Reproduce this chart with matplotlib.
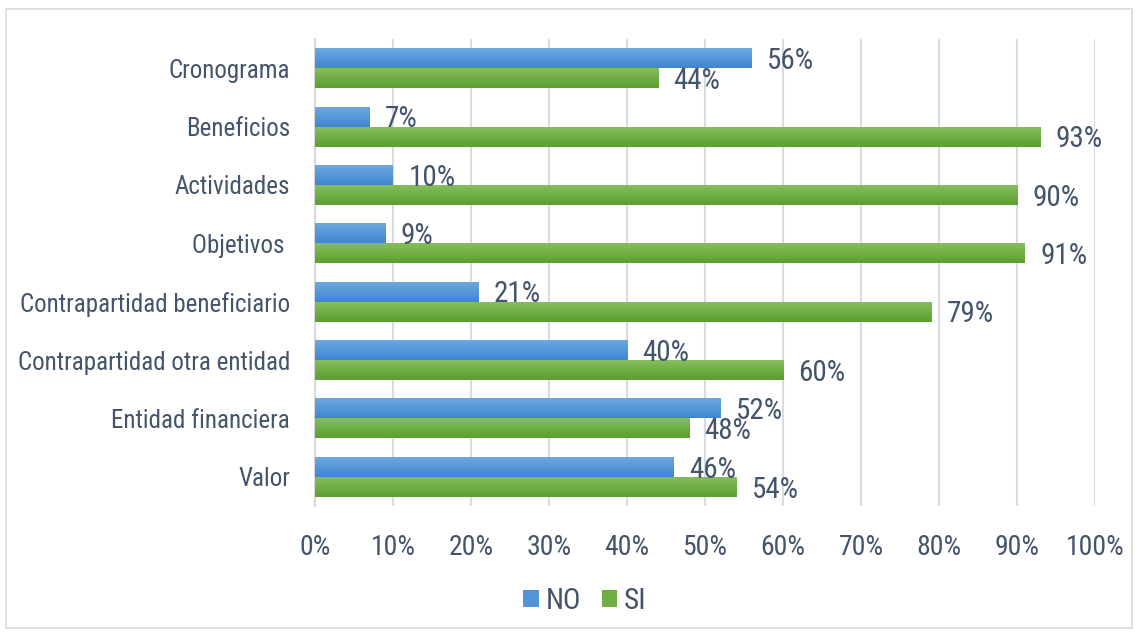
import matplotlib
matplotlib.use("Agg")
import matplotlib.pyplot as plt
import numpy as np
from matplotlib.colors import LinearSegmentedColormap
from matplotlib.patches import Rectangle
from matplotlib import font_manager

categories = ["Cronograma", "Beneficios", "Actividades", "Objetivos ",
              "Contrapartidad beneficiario", "Contrapartidad otra entidad",
              "Entidad financiera", "Valor"]
no_vals = [56, 7, 10, 9, 21, 40, 52, 46]
si_vals = [44, 93, 90, 91, 79, 60, 48, 54]
series_names = ["NO", "SI"]
xticks = [0, 10, 20, 30, 40, 50, 60, 70, 80, 90, 100]

# look for a condensed / narrow sans face
cands = []
for f in font_manager.fontManager.ttflist:
    nm = f.fname.lower()
    if f.weight in (400, "normal", "regular") and f.style == "normal" and \
       ("narrow" in nm or "condensed" in nm) and "semi" not in nm and "extra" not in nm \
       and "bold" not in nm and "light" not in nm and "medium" not in nm and "black" not in nm \
       and "thin" not in nm and "mono" not in nm and "serif" not in nm.replace("sans", ""):
        cands.append(f)
prefs = ["liberationsansnarrow", "roboto", "opensans", "notosans", "dejavusans"]
chosen = None
for p in prefs:
    for f in cands:
        if p in f.fname.lower().replace("-", "").replace("_", ""):
            chosen = f
            break
    if chosen:
        break
if chosen:
    font_manager.fontManager.addfont(chosen.fname)
    plt.rcParams['font.family'] = [chosen.name, "DejaVu Sans"]
    plt.rcParams['font.stretch'] = chosen.stretch
    scale = 1.0
else:
    plt.rcParams['font.family'] = ["Liberation Sans", "DejaVu Sans"]
    scale = 0.84

txt = "#44546A"
fig = plt.figure(figsize=(11.38, 6.32), dpi=100)
fig.patches.append(Rectangle((6/1138, 4/632), 1126/1138, 619/632, transform=fig.transFigure,
                             fill=False, edgecolor="#D9D9D9", linewidth=1.2))
ax = fig.add_axes([315/1138, 126/632, 780/1138, 467/632])

n = len(categories)
y = np.arange(n)[::-1].astype(float)
h = 0.343
blue_cmap = LinearSegmentedColormap.from_list("b", ["#3F86CF", "#70AAE1"])
green_cmap = LinearSegmentedColormap.from_list("g", ["#5C9E30", "#86C05E"])

b_no = ax.barh(y + h/2, no_vals, height=h, color="#5294D8", zorder=2, label=series_names[0])
b_si = ax.barh(y - h/2, si_vals, height=h, color="#70AE45", zorder=2, label=series_names[1])

grad = np.linspace(0, 1, 64).reshape(-1, 1)
for bars, cmap in ((b_no, blue_cmap), (b_si, green_cmap)):
    for bar in bars:
        x0, y0 = bar.get_x(), bar.get_y()
        w, hh = bar.get_width(), bar.get_height()
        im = ax.imshow(grad, extent=[x0, x0 + w, y0, y0 + hh], origin="lower",
                       aspect="auto", cmap=cmap, zorder=3)
        im.set_clip_path(bar)

vfs = 21 * scale
for yi, v in zip(y, no_vals):
    ax.annotate(f"{v}%", (v, yi + h/2), xytext=(11, -2), textcoords="offset points",
                va="center", ha="left", fontsize=vfs, color=txt, zorder=4)
for yi, v in zip(y, si_vals):
    ax.annotate(f"{v}%", (v, yi - h/2), xytext=(11, -2), textcoords="offset points",
                va="center", ha="left", fontsize=vfs, color=txt, zorder=4)

ax.set_xlim(0, 100)
ax.set_ylim(-0.5, n - 0.5)
ax.set_xticks(xticks)
ax.set_xticklabels([f"{t}%" for t in xticks], fontsize=20 * scale)
ax.set_yticks(y)
ax.set_yticklabels(categories, fontsize=18 * scale)
ax.tick_params(axis="both", length=0, colors=txt)
ax.tick_params(axis="y", pad=18)
ax.tick_params(axis="x", pad=20)
ax.grid(axis="x", color="#D9DCE3", linewidth=1.5, zorder=0)
ax.set_axisbelow(True)
for s in ["top", "right", "bottom"]:
    ax.spines[s].set_visible(False)
ax.spines["left"].set_color("#D9D9D9")
ax.spines["left"].set_linewidth(1.5)

leg = fig.legend(handles=[b_no, b_si], labels=series_names, loc="center",
                 bbox_to_anchor=(585/1138, 1 - 601/632), ncol=2, frameon=False,
                 fontsize=21 * scale, handlelength=0.52, handleheight=0.52, handletextpad=0.25,
                 columnspacing=0.7, labelcolor=txt)

fig.savefig("out.png", dpi=100)
